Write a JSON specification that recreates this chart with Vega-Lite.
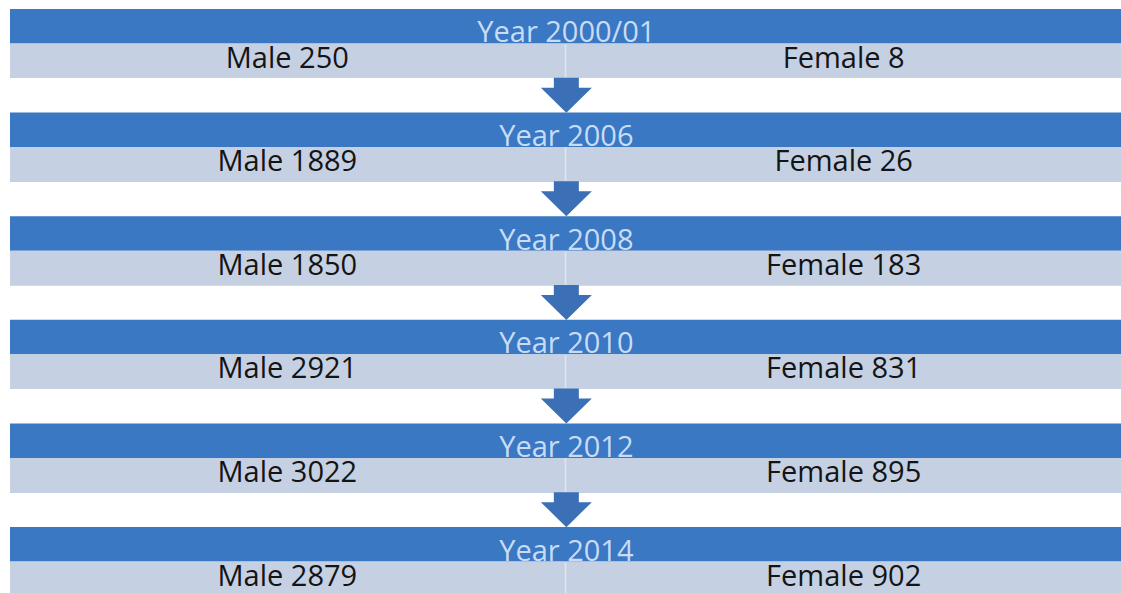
{
  "$schema": "https://vega.github.io/schema/vega-lite/v6.json",
  "width": 1111,
  "height": 584,
  "autosize": {"type": "none"},
  "padding": {"left": 10, "top": 9, "right": 0, "bottom": 0},
  "background": "white",
  "config": {"view": {"stroke": null}},
  "datasets": {
    "years": [
      {"year": "2000/01"}, {"year": "2006"}, {"year": "2008"},
      {"year": "2010"}, {"year": "2012"}, {"year": "2014"}
    ],
    "counts": [
      {"year": "2000/01", "sex": "Male", "count": 250},
      {"year": "2000/01", "sex": "Female", "count": 8},
      {"year": "2006", "sex": "Male", "count": 1889},
      {"year": "2006", "sex": "Female", "count": 26},
      {"year": "2008", "sex": "Male", "count": 1850},
      {"year": "2008", "sex": "Female", "count": 183},
      {"year": "2010", "sex": "Male", "count": 2921},
      {"year": "2010", "sex": "Female", "count": 831},
      {"year": "2012", "sex": "Male", "count": 3022},
      {"year": "2012", "sex": "Female", "count": 895},
      {"year": "2014", "sex": "Male", "count": 2879},
      {"year": "2014", "sex": "Female", "count": 902}
    ],
    "arrows": [
      {"from": "2000/01"}, {"from": "2006"}, {"from": "2008"},
      {"from": "2010"}, {"from": "2012"}
    ]
  },
  "layer": [
    {
      "data": {"name": "years"},
      "mark": {"type": "rect", "color": "#3a78c4"},
      "encoding": {
        "y": {"field": "year", "type": "nominal", "axis": null,
          "scale": {"domain": ["2000/01", "2006", "2008", "2010", "2012", "2014"], "range": [0, 587], "paddingInner": 0.334, "paddingOuter": 0}}
      }
    },
    {
      "data": {"name": "years"},
      "mark": {"type": "rect", "color": "#dfe5ef"},
      "encoding": {
        "y": {"field": "year", "type": "nominal", "axis": null,
          "scale": {"domain": ["2000/01", "2006", "2008", "2010", "2012", "2014"], "range": [0, 587], "paddingInner": 0.334, "paddingOuter": 0}},
        "yOffset": {"datum": "body", "type": "nominal", "scale": {"domain": ["header", "body"], "paddingInner": 0, "paddingOuter": 0}}
      }
    },
    {
      "data": {"name": "counts"},
      "mark": {"type": "rect", "color": "#c5d0e3"},
      "encoding": {
        "x": {"field": "sex", "type": "nominal", "axis": null,
          "scale": {"domain": ["Male", "Female"], "paddingInner": 0.003, "paddingOuter": 0}},
        "y": {"field": "year", "type": "nominal", "axis": null,
          "scale": {"domain": ["2000/01", "2006", "2008", "2010", "2012", "2014"], "range": [0, 587], "paddingInner": 0.334, "paddingOuter": 0}},
        "yOffset": {"datum": "body", "type": "nominal", "scale": {"domain": ["header", "body"], "paddingInner": 0, "paddingOuter": 0}}
      }
    },
    {
      "data": {"name": "years"},
      "transform": [{"calculate": "'Year ' + datum.year", "as": "label"}],
      "mark": {"type": "text", "font": "Open Sans", "fontSize": 29, "color": "#c8dcf4", "baseline": "alphabetic", "align": "center", "dy": -1},
      "encoding": {
        "x": {"datum": "Female", "type": "nominal", "bandPosition": 0, "axis": null,
          "scale": {"domain": ["Male", "Female"], "paddingInner": 0.003, "paddingOuter": 0}},
        "y": {"field": "year", "type": "nominal", "axis": null, "bandPosition": 0.5,
          "scale": {"domain": ["2000/01", "2006", "2008", "2010", "2012", "2014"], "range": [0, 587], "paddingInner": 0.334, "paddingOuter": 0}},
        "text": {"field": "label"}
      }
    },
    {
      "data": {"name": "counts"},
      "transform": [{"calculate": "datum.sex + ' ' + datum.count", "as": "label"}],
      "mark": {"type": "text", "font": "Open Sans", "fontSize": 29, "color": "#141414", "baseline": "alphabetic", "align": "center"},
      "encoding": {
        "x": {"field": "sex", "type": "nominal", "axis": null,
          "scale": {"domain": ["Male", "Female"], "paddingInner": 0.003, "paddingOuter": 0}},
        "y": {"field": "year", "type": "nominal", "axis": null, "bandPosition": 0.85,
          "scale": {"domain": ["2000/01", "2006", "2008", "2010", "2012", "2014"], "range": [0, 587], "paddingInner": 0.334, "paddingOuter": 0}},
        "text": {"field": "label"}
      }
    },
    {
      "data": {"name": "arrows"},
      "mark": {"type": "point", "shape": "M-0.49,-0.686L0.49,-0.686L0.49,-0.294L1,-0.294L0,0.686L-1,-0.294L-0.49,-0.294Z", "filled": true, "color": "#3b6fb6", "opacity": 1, "size": 2601, "strokeWidth": 0},
      "encoding": {
        "x": {"datum": "Female", "type": "nominal", "bandPosition": 0, "axis": null,
          "scale": {"domain": ["Male", "Female"], "paddingInner": 0.003, "paddingOuter": 0}},
        "y": {"field": "from", "type": "nominal", "axis": null, "bandPosition": 1.25,
          "scale": {"domain": ["2000/01", "2006", "2008", "2010", "2012", "2014"], "range": [0, 587], "paddingInner": 0.334, "paddingOuter": 0}}
      }
    }
  ]
}
